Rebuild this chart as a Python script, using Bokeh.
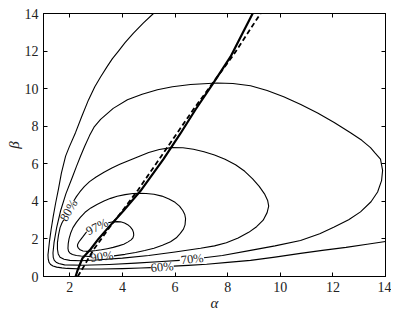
from bokeh.plotting import figure
from bokeh.models import Range1d, LinearAxis, FixedTicker, ColumnDataSource, CustomJSTickFormatter
from bokeh.embed import file_html
from bokeh.resources import INLINE
from bokeh.core.properties import value

# ---------------- data ----------------
x_ticks = [2, 4, 6, 8, 10, 12, 14]
y_ticks = [0, 2, 4, 6, 8, 10, 12, 14]

# 60% contour (open, two pieces split by its label)
c60_alpha = [
    [5.18, 4.80, 4.42, 4.10, 3.85, 3.62, 3.43, 3.18, 2.95, 2.71, 2.45, 2.22, 1.98, 1.84, 1.68, 1.57, 1.46,
     1.37, 1.29, 1.23, 1.19, 1.17, 1.18, 1.21, 1.27, 1.36, 1.50, 1.70, 1.90, 2.50, 3.20, 4.00, 4.70, 5.08],
    [5.95, 6.50, 7.20, 8.00, 8.87, 9.80, 10.77, 11.60, 12.50, 13.30, 14.00],
]
c60_beta = [
    [14.0, 13.5, 12.96, 12.45, 12.0, 11.6, 11.2, 10.65, 10.1, 9.4, 8.5, 7.67, 6.9, 6.41, 5.5, 4.66, 3.9,
     3.2, 2.5, 1.9, 1.4, 1.15, 0.92, 0.75, 0.64, 0.56, 0.50, 0.46, 0.43, 0.40, 0.40, 0.42, 0.45, 0.47],
    [0.55, 0.59, 0.65, 0.75, 0.86, 1.03, 1.23, 1.39, 1.55, 1.72, 1.86],
]

# 70% contour
c70_alpha = [[7.10, 7.80, 8.87, 9.80, 10.77, 11.50, 12.03, 12.60, 13.05, 13.45, 13.70,
              13.85, 13.89, 13.81, 13.60, 13.43, 13.10, 12.67, 12.05, 11.42, 10.78, 10.13, 9.50, 8.87,
              8.20, 7.60, 6.59, 5.90, 5.33, 4.75, 4.19, 3.65, 3.17, 2.92, 2.75, 2.57, 2.41, 2.25, 2.10,
              1.85, 1.65, 1.50, 1.40, 1.36, 1.37, 1.41, 1.48, 1.58, 1.80, 2.50, 3.50, 4.50, 5.50, 6.18]]
c70_beta = [[1.00, 1.12, 1.39, 1.63, 1.92, 2.28, 2.62, 3.02, 3.44, 3.98, 4.50,
             5.10, 5.65, 6.25, 6.58, 6.86, 7.25, 7.65, 8.20, 8.70, 9.15, 9.57, 9.90, 10.15,
             10.27, 10.30, 10.22, 10.10, 9.94, 9.70, 9.41, 8.95, 8.36, 7.95, 7.50, 6.95, 6.41, 5.85, 5.30,
             4.40, 3.50, 2.60, 1.80, 1.25, 1.02, 0.86, 0.76, 0.69, 0.62, 0.60, 0.64, 0.71, 0.80, 0.86]]

# 80% contour
c80_alpha = [[2.15, 2.25, 2.38, 2.55, 2.75, 3.00, 3.30, 3.60, 3.90, 4.25, 4.60, 5.00, 5.40,
              5.85, 6.30, 6.70, 7.10, 7.50, 7.90, 8.30, 8.65, 8.95, 9.20, 9.40, 9.52, 9.56,
              9.50, 9.35, 9.10, 8.80, 8.40, 7.95, 7.50, 6.97, 6.00, 5.00, 4.00, 3.00, 2.40,
              2.00, 1.78, 1.63, 1.56, 1.53, 1.53, 1.57, 1.63, 1.70, 1.77]]
c80_beta = [[4.02, 4.25, 4.50, 4.78, 5.05, 5.30, 5.55, 5.78, 5.97, 6.18, 6.38, 6.60, 6.76,
             6.86, 6.85, 6.77, 6.64, 6.47, 6.24, 5.95, 5.60, 5.20, 4.80, 4.40, 4.05, 3.75,
             3.40, 3.00, 2.65, 2.35, 2.05, 1.80, 1.63, 1.50, 1.30, 1.12, 0.98, 0.88, 0.84,
             0.86, 0.92, 1.03, 1.20, 1.45, 1.80, 2.20, 2.60, 2.85, 3.02]]

# 90% contour
c90_alpha = [[3.68, 4.10, 4.50, 4.85, 5.20, 5.52, 5.83, 6.05, 6.20, 6.32, 6.38, 6.40, 6.37, 6.30,
              6.17, 6.00, 5.77, 5.50, 5.20, 4.90, 4.65, 4.40, 4.10, 3.80, 3.55, 3.30, 3.05, 2.80,
              2.58, 2.40, 2.25, 2.12, 2.03, 1.97, 1.94, 1.93, 1.95, 2.00, 2.10, 2.25, 2.42, 2.60, 2.80]]
c90_beta = [[1.10, 1.18, 1.28, 1.38, 1.50, 1.66, 1.85, 2.06, 2.30, 2.52, 2.75, 3.08, 3.30, 3.50,
             3.75, 3.95, 4.13, 4.28, 4.38, 4.42, 4.43, 4.42, 4.36, 4.27, 4.16, 4.02, 3.85, 3.65,
             3.42, 3.15, 2.88, 2.60, 2.30, 2.00, 1.75, 1.50, 1.35, 1.25, 1.17, 1.12, 1.09, 1.08, 1.06]]

# 97% contour
c97_alpha = [[3.46, 3.65, 3.80, 3.93, 4.08, 4.20, 4.30, 4.38, 4.42, 4.43, 4.40, 4.33, 4.20, 4.05,
              3.85, 3.65, 3.42, 3.20, 3.00, 2.80, 2.63, 2.50, 2.39, 2.32, 2.29, 2.30, 2.35, 2.42,
              2.50, 2.58, 2.64]]
c97_beta = [[2.86, 2.91, 2.92, 2.91, 2.85, 2.76, 2.64, 2.50, 2.35, 2.20, 2.06, 1.95, 1.83, 1.72,
             1.63, 1.55, 1.48, 1.42, 1.38, 1.35, 1.34, 1.36, 1.42, 1.52, 1.62, 1.72, 1.85, 1.98,
             2.12, 2.27, 2.38]]

level_text = ["60%", "70%", "80%", "90%", "97%"]
level_alpha = [5.51, 6.65, 1.96, 3.22, 3.04]
level_beta = [0.50, 0.93, 3.52, 1.06, 2.64]
level_angle = [5, 6, 60, 7, 26]

# thick solid curve
solid_alpha = [2.22, 2.30, 2.48, 2.79, 3.09, 3.43, 4.04, 4.69, 5.56, 6.20, 6.78, 7.46, 8.11, 8.95]
solid_beta = [0.0, 0.35, 0.97, 1.45, 2.00, 2.55, 3.50, 4.56, 6.25, 7.60, 8.89, 10.31, 11.70, 14.0]

# dashed curve
dashed_alpha = [2.30, 2.56, 2.75, 2.94, 3.13, 3.50, 4.00, 4.60, 5.45, 6.70, 7.46, 8.20, 9.25]
dashed_beta = [0.0, 0.60, 1.07, 1.50, 1.87, 2.60, 3.50, 4.62, 6.35, 8.90, 10.35, 11.75, 14.0]

# ---------------- figure ----------------
serif = "Liberation Serif"

p = figure(width=391, height=313, x_range=Range1d(1, 14), y_range=Range1d(0, 14),
           output_backend="svg", toolbar_location=None,
           min_border_left=43, min_border_right=6, min_border_top=13, min_border_bottom=35,
           x_axis_location=None, y_axis_location=None)
p.grid.visible = False
p.outline_line_color = "black"
p.outline_line_width = 1
p.background_fill_color = "white"
p.border_fill_color = "white"


def make_axis(label, ticks, show_labels):
    ax = LinearAxis(ticker=FixedTicker(ticks=ticks))
    ax.axis_line_color = "black"
    ax.major_tick_in = 4
    ax.major_tick_out = 0
    ax.minor_tick_line_color = None
    ax.major_tick_line_color = "black"
    if show_labels:
        ax.major_label_text_font = serif
        ax.major_label_text_font_size = "14px"
        ax.major_label_text_color = "#222222"
        ax.major_label_standoff = 5
        ax.axis_label = label
        ax.axis_label_text_font = serif
        ax.axis_label_text_font_style = "italic"
        ax.axis_label_text_font_size = "15px"
        ax.axis_label_text_color = "#222222"
        ax.axis_label_standoff = 0
    else:
        ax.formatter = CustomJSTickFormatter(code="return ''")
        ax.major_label_standoff = 0
    return ax


p.add_layout(make_axis("α", x_ticks, True), "below")
p.add_layout(make_axis("β", y_ticks, True), "left")
p.add_layout(make_axis("", x_ticks, False), "above")
p.add_layout(make_axis("", y_ticks, False), "right")

for xs, ys in [(c60_alpha, c60_beta), (c70_alpha, c70_beta), (c80_alpha, c80_beta),
               (c90_alpha, c90_beta), (c97_alpha, c97_beta)]:
    p.multi_line(xs, ys, line_color="black", line_width=1.1, line_join="round")

lab = ColumnDataSource(dict(x=level_alpha, y=level_beta, t=level_text, a=level_angle))
p.text("x", "y", text="t", angle="a", angle_units="deg", source=lab,
       text_font=value(serif), text_font_size="12.5px", text_color="#222222",
       text_align="center", text_baseline="middle")

p.line(solid_alpha, solid_beta, line_color="black", line_width=2.2, line_join="round")
p.line(dashed_alpha, dashed_beta, line_color="black", line_width=1.8, line_dash="5 3")

open("out.html", "w").write(file_html(p, INLINE))
